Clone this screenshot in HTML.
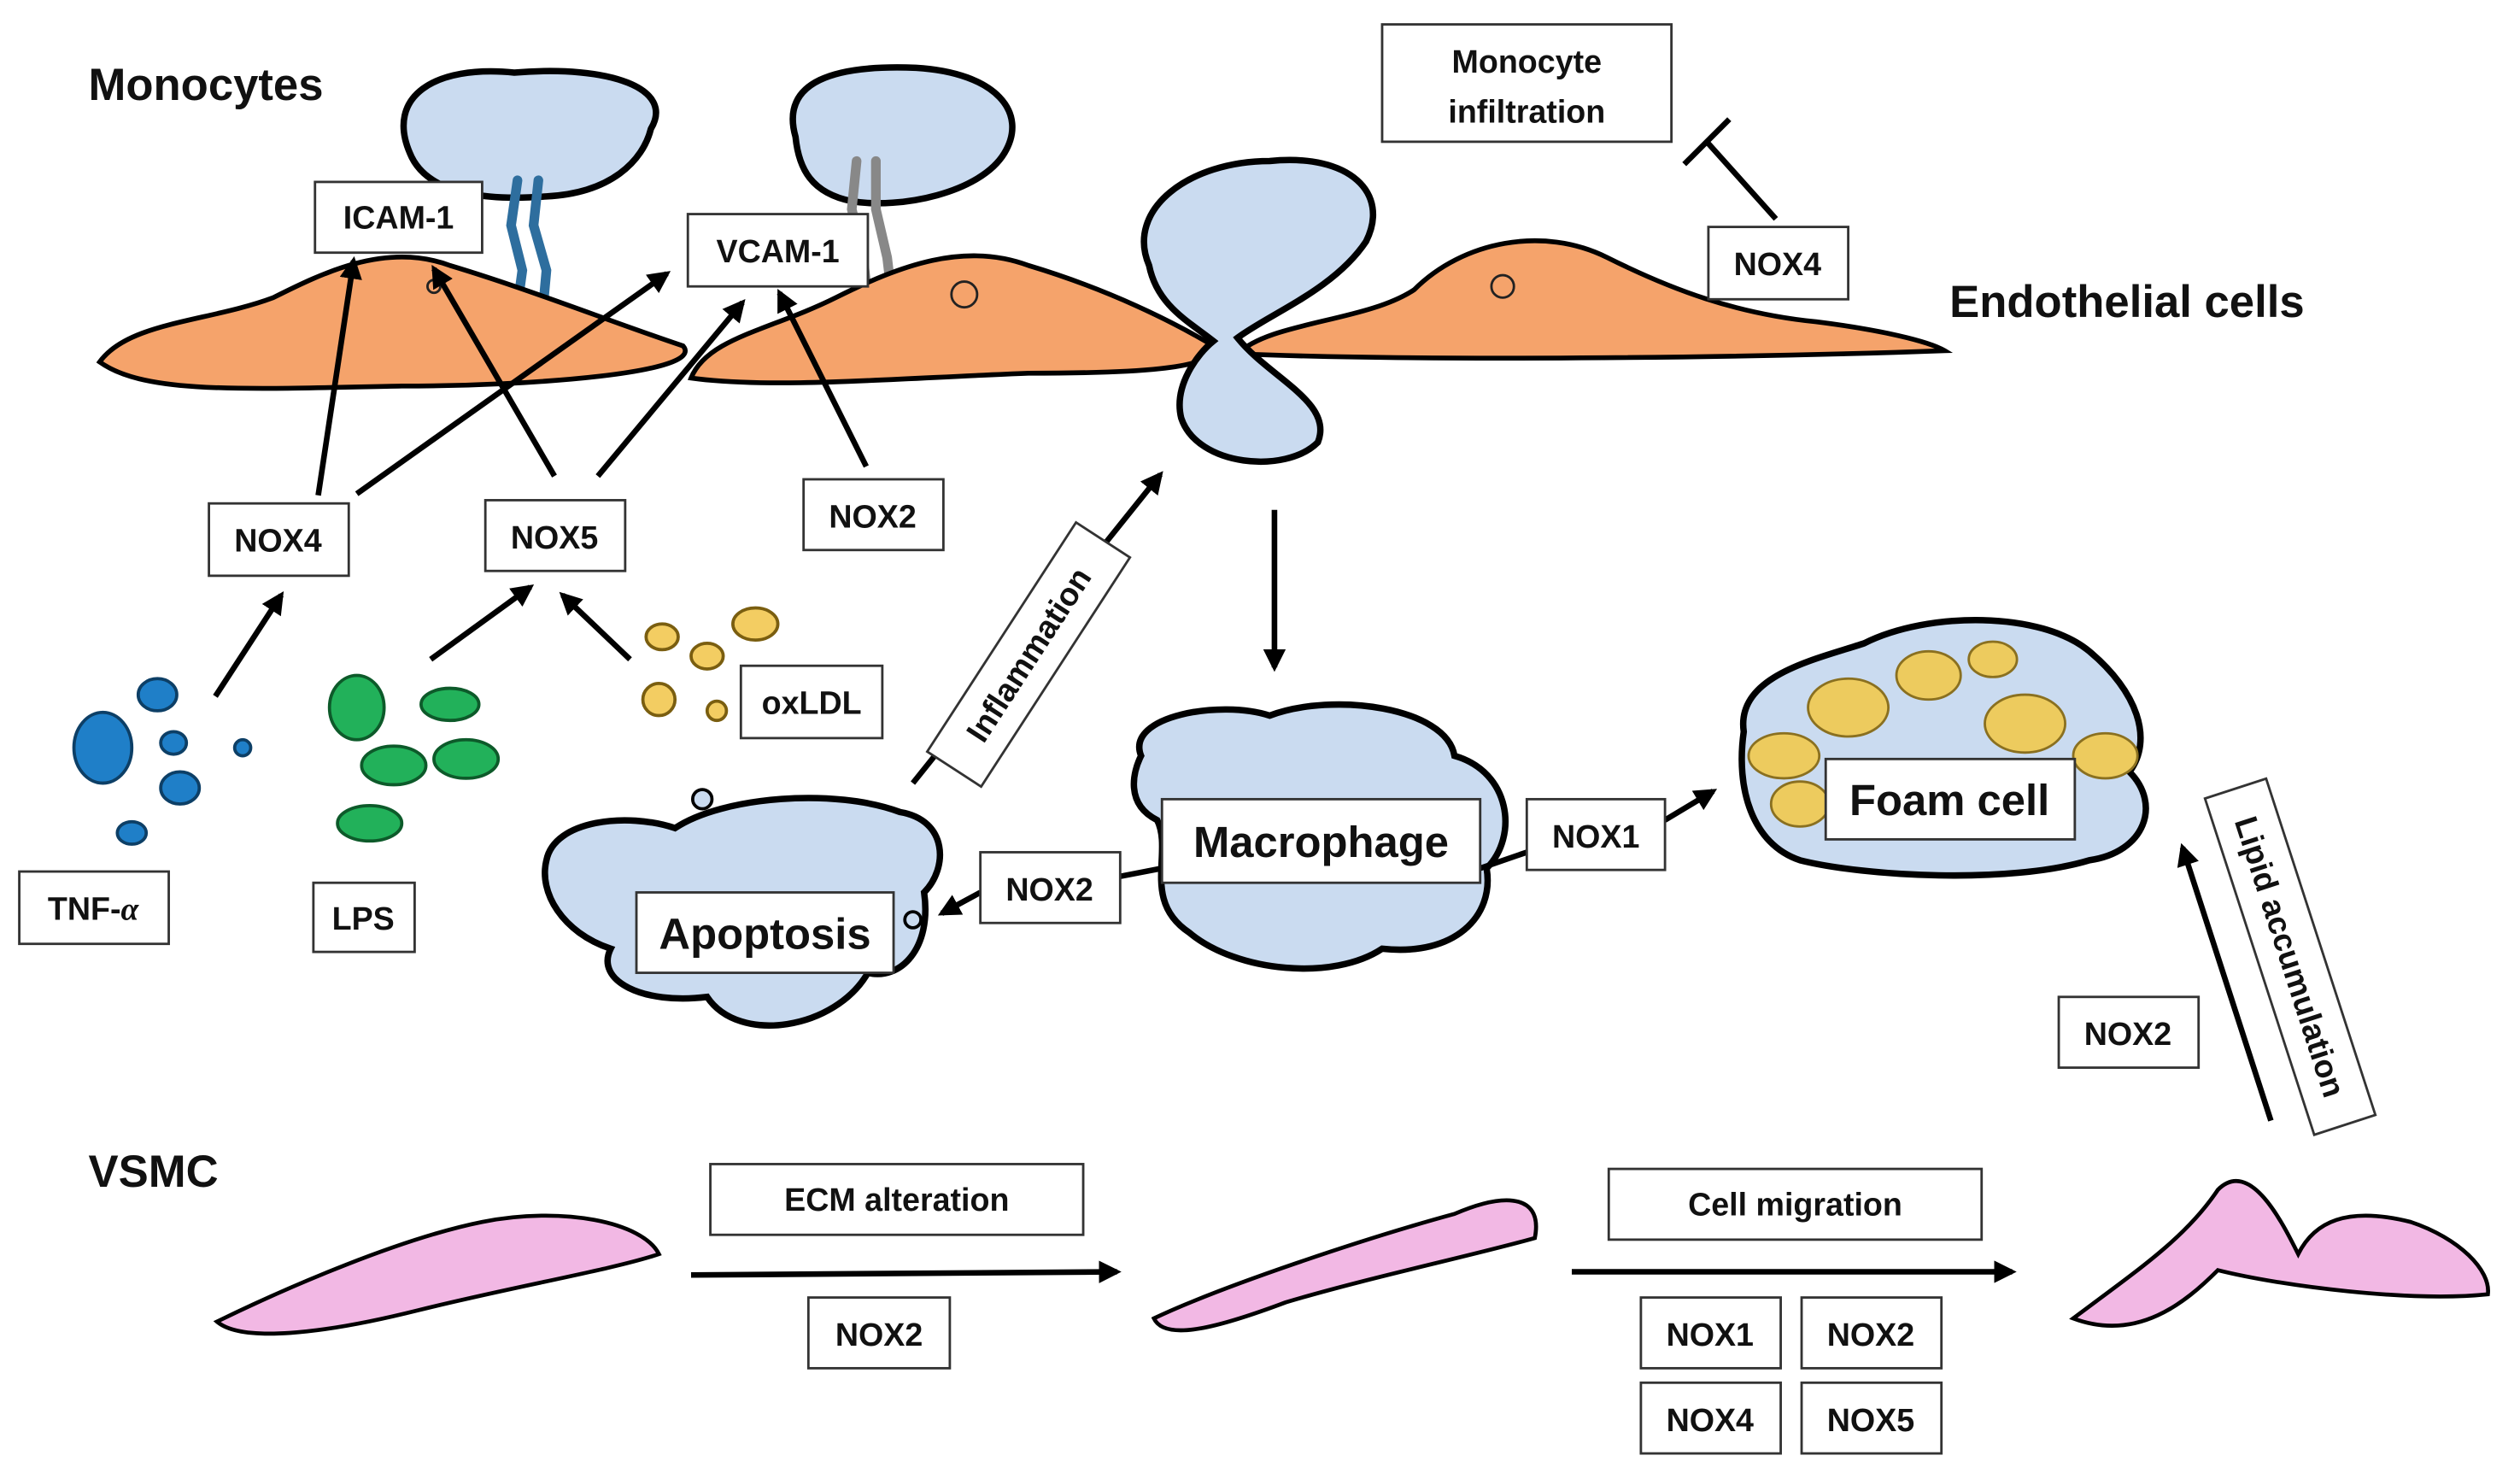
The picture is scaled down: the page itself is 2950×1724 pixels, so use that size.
<!DOCTYPE html>
<html><head><meta charset="utf-8"><style>
html,body{margin:0;padding:0;background:#fff;}
svg{display:block;}
text{font-family:"Liberation Sans",sans-serif;font-weight:bold;fill:#111;}
</style></head><body>
<svg width="2950" height="1724" viewBox="0 0 1568 916" xmlns="http://www.w3.org/2000/svg">
<defs>
<marker id="ah" viewBox="0 0 10 10" refX="8" refY="5" markerWidth="4" markerHeight="4" orient="auto-start-reverse">
<path d="M0,0 L10,5 L0,10 z" fill="#000"/></marker>
</defs>
<rect width="1568" height="916" fill="#fff"/>

<path d="M255,95 C240,60 270,40 320,45 C380,40 420,55 405,80 C400,100 380,120 340,122 C300,125 265,120 255,95 Z" fill="#CADBF0" stroke="#000" stroke-width="4"/>
<path d="M495,85 C485,50 520,40 570,42 C620,45 640,70 625,95 C610,120 560,130 530,125 C505,120 497,105 495,85 Z" fill="#CADBF0" stroke="#000" stroke-width="4"/>
<g stroke="#2E6E9E" stroke-width="6" fill="none" stroke-linecap="round">
<path d="M322,112 L318,140 L325,168 L322,190"/><path d="M335,112 L332,140 L340,168 L338,190"/>
</g>
<g stroke="#888" stroke-width="6" fill="none" stroke-linecap="round">
<path d="M533,100 L530,130 L537,160 L540,185"/><path d="M545,100 L545,130 L552,160 L555,185"/>
</g>

<path d="M62,225 C80,200 130,200 170,185 C200,170 240,150 280,165 C330,180 380,200 425,215 C440,232 330,240 250,240 C150,242 90,245 62,225 Z" fill="#F5A36B" stroke="#000" stroke-width="3"/>
<path d="M430,235 C440,210 480,205 520,185 C560,165 600,150 640,165 C690,180 730,200 755,215 C760,230 700,232 640,232 C560,235 480,242 430,235 Z" fill="#F5A36B" stroke="#000" stroke-width="3"/>
<path d="M770,220 C790,200 850,200 880,180 C910,150 960,140 1000,160 C1040,180 1080,195 1130,200 C1170,205 1200,212 1210,218 C1100,222 900,225 770,220 Z" fill="#F5A36B" stroke="#000" stroke-width="3"/>
<g fill="none" stroke="#222" stroke-width="1.5">
<circle cx="600" cy="183" r="8"/><circle cx="935" cy="178" r="7"/><circle cx="270" cy="178" r="4"/>
</g>

<path d="M715,165 C700,130 740,100 790,100 C840,95 865,120 850,150 C830,180 790,195 770,210 C790,235 830,250 820,275 C800,295 745,290 735,260 C730,240 745,220 755,212 C740,200 720,190 715,165 Z" fill="#CADBF0" stroke="#000" stroke-width="4"/>

<path d="M710,470 C700,445 760,435 790,445 C830,430 900,440 905,470 C940,480 945,520 925,540 C930,570 905,595 860,590 C830,610 770,605 740,580 C710,560 730,530 720,510 C700,500 705,480 710,470 Z" fill="#CADBF0" stroke="#000" stroke-width="4"/>
<path d="M340,535 C345,510 390,505 420,515 C450,495 520,490 560,505 C590,510 590,540 575,555 C580,590 560,610 540,605 C520,640 460,650 440,620 C400,625 370,610 380,590 C350,580 335,555 340,535 Z" fill="#CADBF0" stroke="#000" stroke-width="4"/>
<circle cx="437" cy="497" r="6" fill="#CADBF0" stroke="#000" stroke-width="2"/>
<circle cx="568" cy="572" r="5" fill="#CADBF0" stroke="#000" stroke-width="2"/>
<path d="M1085,455 C1080,420 1130,410 1160,400 C1200,380 1270,380 1300,405 C1330,430 1340,460 1325,480 C1345,500 1335,530 1300,535 C1250,550 1160,545 1120,535 C1090,525 1080,490 1085,455 Z" fill="#CADBF0" stroke="#000" stroke-width="4"/>
<g fill="#EDCB5E" stroke="#8a7020" stroke-width="1.5">
<ellipse cx="1150" cy="440" rx="25" ry="18"/><ellipse cx="1200" cy="420" rx="20" ry="15"/><ellipse cx="1260" cy="450" rx="25" ry="18"/><ellipse cx="1110" cy="470" rx="22" ry="14"/><ellipse cx="1310" cy="470" rx="20" ry="14"/><ellipse cx="1120" cy="500" rx="18" ry="14"/><ellipse cx="1240" cy="410" rx="15" ry="11"/>
</g>

<g fill="#1F7FC8" stroke="#0d3f66" stroke-width="2">
<ellipse cx="64" cy="465" rx="18" ry="22"/><ellipse cx="98" cy="432" rx="12" ry="10"/><ellipse cx="108" cy="462" rx="8" ry="7"/><ellipse cx="112" cy="490" rx="12" ry="10"/><ellipse cx="82" cy="518" rx="9" ry="7"/><ellipse cx="151" cy="465" rx="5" ry="5"/>
</g>
<g fill="#22B15A" stroke="#0d5a2a" stroke-width="2">
<ellipse cx="222" cy="440" rx="17" ry="20"/><ellipse cx="280" cy="438" rx="18" ry="10"/><ellipse cx="245" cy="476" rx="20" ry="12"/><ellipse cx="290" cy="472" rx="20" ry="12"/><ellipse cx="230" cy="512" rx="20" ry="11"/>
</g>
<g fill="#F3CD62" stroke="#7a5e10" stroke-width="2">
<ellipse cx="470" cy="388" rx="14" ry="10"/><ellipse cx="412" cy="396" rx="10" ry="8"/><ellipse cx="440" cy="408" rx="10" ry="8"/><ellipse cx="410" cy="435" rx="10" ry="10"/><ellipse cx="446" cy="442" rx="6" ry="6"/>
</g>

<g fill="#F2B8E4" stroke="#000" stroke-width="2.5">
<path d="M135,822 C180,800 250,770 300,760 C350,750 400,760 410,780 C380,790 320,800 260,815 C200,830 150,835 135,822 Z"/>
<path d="M718,820 C760,800 850,770 905,755 C940,740 960,745 955,770 C920,780 850,795 800,810 C760,825 725,835 718,820 Z"/>
<path d="M1290,820 C1330,790 1360,770 1380,740 C1400,720 1420,760 1430,780 C1440,760 1460,750 1500,760 C1530,770 1550,790 1548,805 C1500,810 1420,800 1380,790 C1360,810 1330,835 1290,820 Z"/>
</g>

<g stroke="#000" stroke-width="3.5" fill="none" marker-end="url(#ah)">
<line x1="198" y1="308" x2="220" y2="162"/>
<line x1="222" y1="307" x2="415" y2="170"/>
<line x1="345" y1="296" x2="270" y2="167"/>
<line x1="372" y1="296" x2="462" y2="188"/>
<line x1="539" y1="290" x2="485" y2="182"/>
<line x1="134" y1="433" x2="175" y2="370"/>
<line x1="268" y1="410" x2="330" y2="365"/>
<line x1="392" y1="410" x2="350" y2="370"/>
<line x1="793" y1="317" x2="793" y2="415"/>
<line x1="568" y1="487" x2="722" y2="295"/>
<line x1="610" y1="555" x2="586" y2="568" />
<line x1="1036" y1="510" x2="1066" y2="492"/>
<line x1="1413" y1="697" x2="1358" y2="527"/>
<line x1="430" y1="793" x2="695" y2="791"/>
<line x1="978" y1="791" x2="1252" y2="791"/>
</g>
<g stroke="#000" stroke-width="3.5">
<line x1="697" y1="545" x2="723" y2="540"/>
<line x1="921" y1="540" x2="950" y2="530"/>
<line x1="1105" y1="136" x2="1062" y2="88"/>
<line x1="1048" y1="102" x2="1076" y2="74"/>
</g>

<g fill="#fff" stroke="#333" stroke-width="1.5">
<rect x="196" y="113" width="104" height="44"/><rect x="428" y="133" width="112" height="45"/>
<rect x="860" y="15" width="180" height="73"/><rect x="1063" y="141" width="87" height="45"/>
<rect x="130" y="313" width="87" height="45"/><rect x="302" y="311" width="87" height="44"/>
<rect x="500" y="298" width="87" height="44"/><rect x="461" y="414" width="88" height="45"/>
<rect x="12" y="542" width="93" height="45"/><rect x="195" y="549" width="63" height="43"/>
<rect x="723" y="497" width="198" height="52"/><rect x="950" y="497" width="86" height="44"/>
<rect x="1136" y="472" width="155" height="50"/><rect x="610" y="530" width="87" height="44"/>
<rect x="396" y="555" width="160" height="50"/><rect x="1281" y="620" width="87" height="44"/>
<rect x="442" y="724" width="232" height="44"/><rect x="503" y="807" width="88" height="44"/>
<rect x="1001" y="727" width="232" height="44"/><rect x="1021" y="807" width="87" height="44"/>
<rect x="1121" y="807" width="87" height="44"/><rect x="1021" y="860" width="87" height="44"/>
<rect x="1121" y="860" width="87" height="44"/>
</g>
<g transform="translate(640,407) rotate(-57)"><rect x="-85" y="-20" width="170" height="40" fill="#fff" stroke="#333" stroke-width="1.5"/><text x="0" y="7" text-anchor="middle" font-size="20">Inflammation</text></g>
<g transform="translate(1425,595) rotate(72)"><rect x="-110" y="-20" width="220" height="40" fill="#fff" stroke="#333" stroke-width="1.5"/><text x="0" y="7" text-anchor="middle" font-size="20">Lipid accumulation</text></g>

<g font-size="20" text-anchor="middle">
<text x="248" y="142">ICAM-1</text><text x="484" y="163">VCAM-1</text>
<text x="950" y="45">Monocyte</text><text x="950" y="76">infiltration</text>
<text x="1106" y="171">NOX4</text><text x="173" y="343">NOX4</text><text x="345" y="341">NOX5</text>
<text x="543" y="328">NOX2</text><text x="505" y="444">oxLDL</text><text x="58" y="572">TNF-<tspan font-family="Liberation Serif" font-style="italic">α</tspan></text>
<text x="226" y="578">LPS</text><text x="993" y="527">NOX1</text><text x="653" y="560">NOX2</text>
<text x="1324" y="650">NOX2</text><text x="558" y="753">ECM alteration</text><text x="547" y="837">NOX2</text>
<text x="1117" y="756">Cell migration</text><text x="1064" y="837">NOX1</text><text x="1164" y="837">NOX2</text>
<text x="1064" y="890">NOX4</text><text x="1164" y="890">NOX5</text>
</g>
<g font-size="27" text-anchor="middle">
<text x="822" y="533">Macrophage</text><text x="1213" y="507">Foam cell</text><text x="476" y="590">Apoptosis</text>
</g>
<text x="55" y="62" font-size="28">Monocytes</text>
<text x="1213" y="197" font-size="28">Endothelial cells</text>
<text x="55" y="738" font-size="28">VSMC</text>
</svg>
</body></html>
